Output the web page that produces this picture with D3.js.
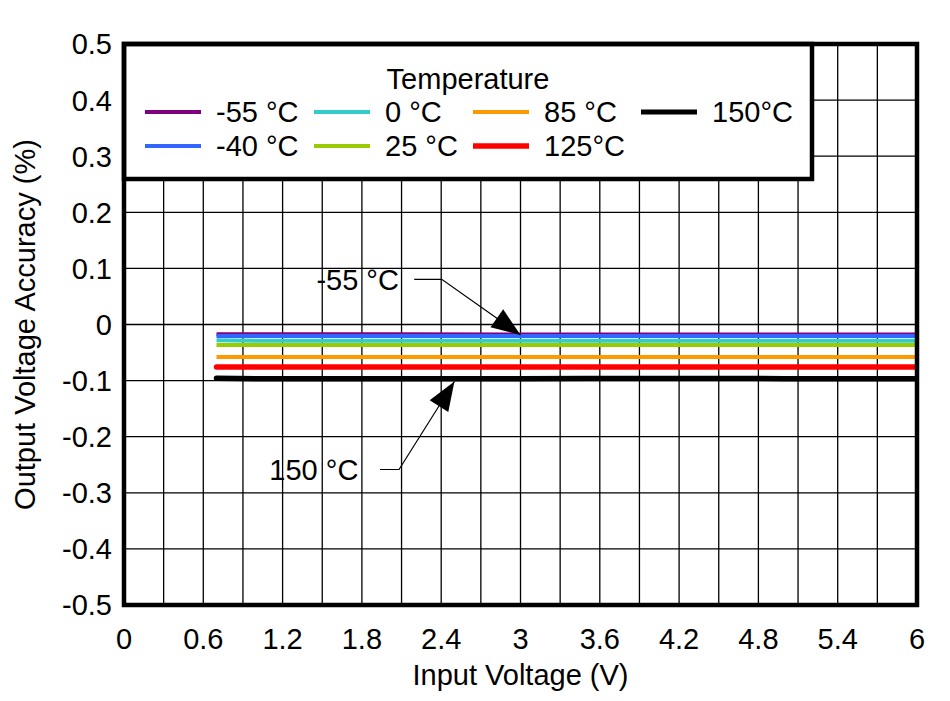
<!DOCTYPE html>
<html>
<head>
<meta charset="utf-8">
<script src="https://cdn.jsdelivr.net/npm/d3@7"></script>
<style>
    body { margin: 0; background: #fff; }
    svg text { font-family: "Liberation Sans", Arial, sans-serif; font-size: 29px; fill: #000; }
</style>
</head>
<body>
<svg id="chart" width="950" height="701"></svg>
<script>
// data
let seriesNames = ['-55 °C', '-40 °C', '0 °C', '25 °C', '85 °C', '125°C', '150°C'];
let seriesColors = ['#800080', '#3366ff', '#33cccc', '#99cc00', '#ff9900', '#ff0000', '#000000'];
let inputVoltage = [0.7, 1.0, 2.0, 3.0, 3.5, 4.5, 5.0, 6.0];
let accM55 = [-0.0175, -0.0175, -0.0176, -0.0177, -0.0177, -0.0177, -0.0177, -0.0177];
let accM40 = [-0.0205, -0.0205, -0.0205, -0.0205, -0.0205, -0.0205, -0.0205, -0.0205];
let acc0 = [-0.0282, -0.0289, -0.0289, -0.0289, -0.0289, -0.0289, -0.0289, -0.0289];
let acc25 = [-0.0365, -0.0365, -0.0365, -0.0365, -0.0365, -0.0365, -0.0365, -0.0365];
let acc85 = [-0.058, -0.058, -0.058, -0.058, -0.058, -0.058, -0.058, -0.058];
let acc125 = [-0.0757, -0.0757, -0.0757, -0.0757, -0.0757, -0.0757, -0.0757, -0.0757];
let acc150 = [-0.0958, -0.0966, -0.0966, -0.0966, -0.0962, -0.0962, -0.0966, -0.0966];
let xTicks = [0, 0.6, 1.2, 1.8, 2.4, 3, 3.6, 4.2, 4.8, 5.4, 6];
let yTicks = [-0.5, -0.4, -0.3, -0.2, -0.1, 0, 0.1, 0.2, 0.3, 0.4, 0.5];
let annotations = [
    { text: '-55 °C', tip: [3.0, -0.0187], elbow: [2.404, 0.0806], start: [2.196, 0.0806], label: [2.08, 0.0615] },
    { text: '150 °C', tip: [2.5, -0.1016], elbow: [2.081, -0.2585], start: [1.937, -0.2585], label: [1.773, -0.2772] }
];

function init() {
    let margin = { left: 124, right: 917, top: 44, bottom: 605 };
    let svg = d3.select('#chart');
    let x = d3.scaleLinear().domain([0, 6]).range([margin.left, margin.right]);
    let y = d3.scaleLinear().domain([-0.5, 0.5]).range([margin.bottom, margin.top]);
    // plain hyphen for negatives, like the original
    let fmt = d3.formatLocale({ decimal: '.', thousands: ',', grouping: [3], currency: ['', ''], minus: '-' }).format('~g');

    // grid
    let xGrid = d3.range(0, 21).map(i => i * 0.3);
    svg.append('g').selectAll('line').data(xGrid).join('line')
        .attr('x1', d => x(d)).attr('x2', d => x(d))
        .attr('y1', margin.top).attr('y2', margin.bottom)
        .attr('stroke', '#000').attr('stroke-width', 1.3);
    svg.append('g').selectAll('line').data(yTicks).join('line')
        .attr('x1', margin.left).attr('x2', margin.right)
        .attr('y1', d => y(d)).attr('y2', d => y(d))
        .attr('stroke', '#000').attr('stroke-width', 1.3);

    // tick labels
    svg.append('g').selectAll('text').data(xTicks).join('text')
        .attr('x', d => x(d))
        .attr('y', 649)
        .attr('text-anchor', 'middle')
        .text(d => fmt(d));
    svg.append('g').selectAll('text').data(yTicks).join('text')
        .attr('x', 112)
        .attr('y', d => y(d) + 10.4)
        .attr('text-anchor', 'end')
        .text(d => fmt(d));

    // axis titles
    svg.append('text')
        .attr('x', (margin.left + margin.right) / 2)
        .attr('y', 685)
        .attr('text-anchor', 'middle')
        .text('Input Voltage (V)');
    svg.append('text')
        .attr('transform', 'translate(35,' + ((margin.top + margin.bottom) / 2) + ') rotate(-90)')
        .attr('text-anchor', 'middle')
        .text('Output Voltage Accuracy (%)');

    // series
    svg.append('clipPath').attr('id', 'plotClip').append('rect')
        .attr('x', margin.left).attr('y', margin.top)
        .attr('width', margin.right - margin.left).attr('height', margin.bottom - margin.top);
    let allSeries = [accM55, accM40, acc0, acc25, acc85, acc125, acc150];
    let widths = [4, 4, 4, 4, 4, 5.5, 5.5];
    let line = d3.line().x(d => x(d[0])).y(d => y(d[1]));
    svg.append('g').attr('clip-path', 'url(#plotClip)')
        .selectAll('path').data(allSeries).join('path')
        .attr('d', vals => line(inputVoltage.map((v, i) => [v, vals[i]])))
        .attr('fill', 'none')
        .attr('stroke', (d, i) => seriesColors[i])
        .attr('stroke-width', (d, i) => widths[i])
        .attr('stroke-linecap', (d, i) => i >= 5 ? 'round' : 'butt');

    // annotations
    let ann = svg.append('g');
    annotations.forEach(a => {
        let tip = [x(a.tip[0]), y(a.tip[1])];
        let elbow = [x(a.elbow[0]), y(a.elbow[1])];
        let start = [x(a.start[0]), y(a.start[1])];
        ann.append('polyline')
            .attr('points', [start, elbow, tip].map(p => p.join(',')).join(' '))
            .attr('fill', 'none').attr('stroke', '#000').attr('stroke-width', 1.2);
        let dx = tip[0] - elbow[0], dy = tip[1] - elbow[1];
        let len = Math.sqrt(dx * dx + dy * dy);
        let ux = dx / len, uy = dy / len;
        let bx = tip[0] - 29 * ux, by = tip[1] - 29 * uy;
        ann.append('polygon')
            .attr('points', [tip, [bx - 11 * uy, by + 11 * ux], [bx + 11 * uy, by - 11 * ux]].map(p => p.join(',')).join(' '))
            .attr('fill', '#000');
        ann.append('text')
            .attr('x', x(a.label[0]))
            .attr('y', y(a.label[1]))
            .attr('text-anchor', 'end')
            .text(a.text);
    });

    // legend
    let legend = svg.append('g');
    legend.append('rect')
        .attr('x', margin.left).attr('y', margin.top)
        .attr('width', 812 - margin.left).attr('height', 179 - margin.top)
        .attr('fill', '#fff').attr('stroke', '#000').attr('stroke-width', 4.5);
    legend.append('text')
        .attr('x', 468).attr('y', 89)
        .attr('text-anchor', 'middle')
        .text('Temperature');
    let colX = [145, 314, 473, 641];
    let rowY = [112, 146];
    let legendWidths = [4, 4, 4, 4, 4, 5.5, 5];
    let items = legend.selectAll('g.item').data(seriesNames).join('g')
        .attr('class', 'item')
        .attr('transform', (d, i) => 'translate(' + colX[Math.floor(i / 2)] + ',' + rowY[i % 2] + ')');
    items.append('line')
        .attr('x1', 0).attr('x2', 56)
        .attr('stroke', (d, i) => seriesColors[i])
        .attr('stroke-width', (d, i) => legendWidths[i]);
    items.append('text')
        .attr('x', 71)
        .attr('y', 10.4)
        .text(d => d);

    // frame
    svg.append('rect')
        .attr('x', margin.left).attr('y', margin.top)
        .attr('width', margin.right - margin.left).attr('height', margin.bottom - margin.top)
        .attr('fill', 'none').attr('stroke', '#000').attr('stroke-width', 4.5);
}

init();
</script>
</body>
</html>
